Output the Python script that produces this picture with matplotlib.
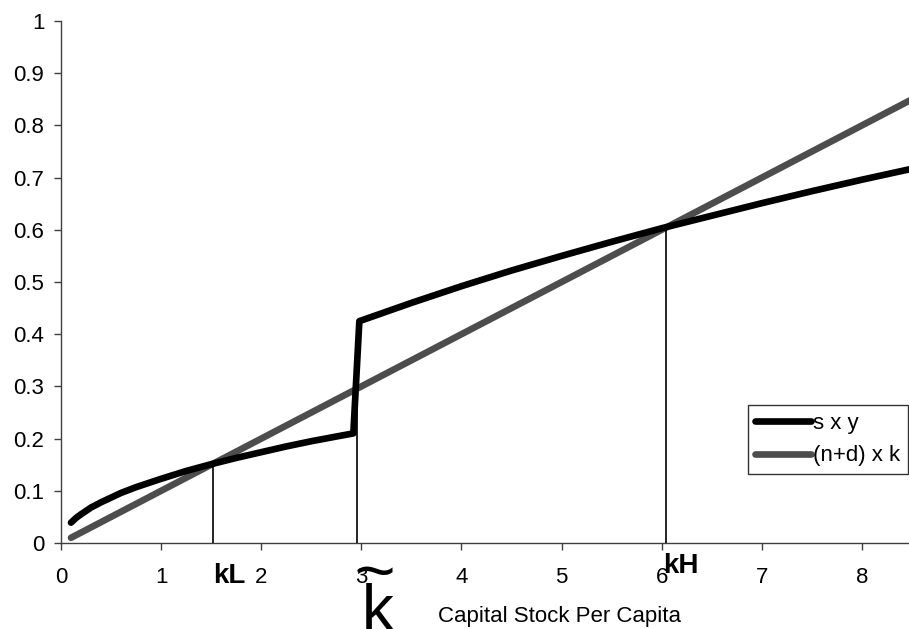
import matplotlib
matplotlib.use('Agg')
import matplotlib.pyplot as plt

plt.rcParams['font.family'] = ['Liberation Sans', 'DejaVu Sans']

# savings x output, low regime and high regime (jump near k~)
k_low = [0.1, 0.15, 0.2, 0.3, 0.4, 0.5, 0.6, 0.75, 1.0, 1.25, 1.5, 1.75, 2.0, 2.25, 2.5, 2.75, 2.92]
sy_low = [0.039, 0.048, 0.055, 0.068, 0.078, 0.087, 0.096, 0.107, 0.123, 0.138, 0.151, 0.163,
          0.174, 0.185, 0.195, 0.204, 0.210]
k_high = [2.98, 3.5, 4.0, 4.5, 5.0, 5.5, 6.0, 6.5, 7.0, 7.5, 8.0, 8.5]
sy_high = [0.425, 0.460, 0.492, 0.522, 0.550, 0.577, 0.603, 0.627, 0.651, 0.674, 0.696, 0.717]

# break-even line (n+d) x k
k_line = [0.1, 8.5]
nd_line = [0.01, 0.85]

# equilibrium markers
k_marks = [1.52, 2.96, 6.04]
k_mark_tops = [0.152, 0.296, 0.604]

xticks = [0, 1, 2, 3, 4, 5, 6, 7, 8]
yticks = [0, 0.1, 0.2, 0.3, 0.4, 0.5, 0.6, 0.7, 0.8, 0.9, 1]
ytick_labels = ['0', '0.1', '0.2', '0.3', '0.4', '0.5', '0.6', '0.7', '0.8', '0.9', '1']

fig = plt.figure(figsize=(9.09, 6.29), dpi=100)
ax = fig.add_axes([0.0671, 0.1367, 0.9329, 0.8299])

ax.plot(k_low + k_high, sy_low + sy_high, color='black', lw=4.8,
        solid_capstyle='round', label='s x y', zorder=3)
ax.plot(k_line, nd_line, color='#4d4d4d', lw=4.8,
        solid_capstyle='round', label='(n+d) x k', zorder=2)
for xm, ym in zip(k_marks, k_mark_tops):
    ax.plot([xm, xm], [0, ym], color='black', lw=1.2, zorder=4)

ax.set_xlim(0, 8.47)
ax.set_ylim(0, 1)
ax.set_xticks(xticks)
ax.set_yticks(yticks)
ax.set_yticklabels(ytick_labels)
for s in ['top', 'right']:
    ax.spines[s].set_visible(False)
for s in ['left', 'bottom']:
    ax.spines[s].set_color('#404040')
    ax.spines[s].set_linewidth(1.0)
ax.tick_params(axis='both', direction='out', length=5, width=1, color='#404040',
               labelsize=16)
ax.tick_params(axis='x', pad=12)
ax.tick_params(axis='y', pad=7)

ax.text(1.52, -0.077, 'kL', fontsize=20, fontweight='bold', ha='left', va='baseline',
        clip_on=False)
ax.text(6.01, -0.058, 'kH', fontsize=20, fontweight='bold', ha='left', va='baseline',
        clip_on=False)
ax.text(3.16, -0.167, 'k', fontsize=46, ha='center', va='baseline', clip_on=False)
ax.text(3.14, -0.098, '~', fontsize=50, ha='center', va='baseline', clip_on=False)
ax.text(3.765, -0.151, 'Capital Stock Per Capita', fontsize=16, ha='left', va='baseline',
        clip_on=False)

leg = ax.legend(loc='lower right', bbox_to_anchor=(0.999, 0.132), fontsize=16,
                frameon=True, fancybox=False, handlelength=2.5, handletextpad=0.1,
                borderpad=0.35, labelspacing=0.5, borderaxespad=0)
leg.get_frame().set_edgecolor('black')
leg.get_frame().set_linewidth(1.0)

fig.savefig('out.png', dpi=100)
